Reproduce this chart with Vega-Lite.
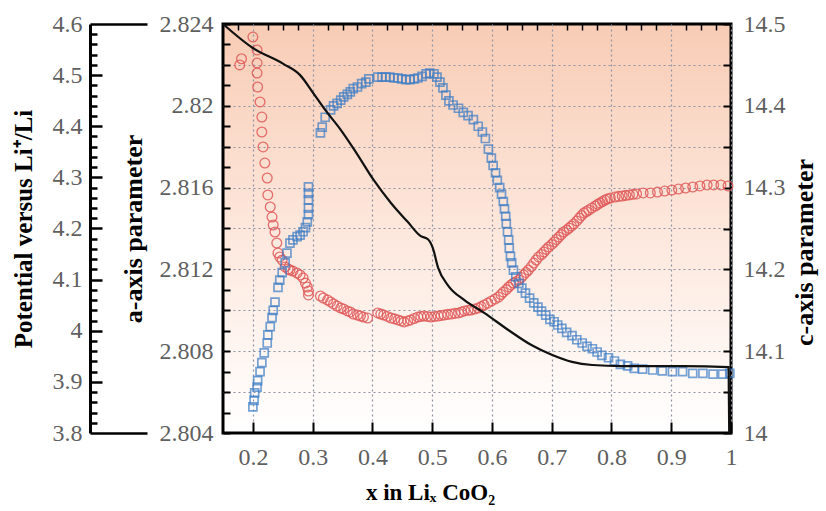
{
  "$schema": "https://vega.github.io/schema/vega-lite/v6.json",
  "width": 508,
  "height": 409,
  "autosize": "none",
  "padding": {"left": 223, "top": 24, "right": 95, "bottom": 78},
  "background": "white",
  "view": {
    "stroke": "black",
    "strokeWidth": 3,
    "fill": {"gradient": "linear", "x1": 0, "y1": 0, "x2": 0, "y2": 1,
      "stops": [{"offset": 0, "color": "#f8ccb5"}, {"offset": 0.5, "color": "#fde7dc"}, {"offset": 1, "color": "#ffffff"}]}
  },
  "config": {
    "font": "Liberation Serif",
    "axis": {
      "labelFont": "Liberation Serif",
      "labelFontSize": 24,
      "labelColor": "#5f5f5f",
      "titleFont": "Liberation Serif",
      "titleFontSize": 26,
      "titleFontWeight": "bold",
      "titleColor": "black",
      "tickColor": "black",
      "tickWidth": 2,
      "gridColor": "#8f93a3",
      "gridDash": [2, 3],
      "gridWidth": 1.2,
      "labelOverlap": false,
      "labelFlush": false
    }
  },
  "datasets": {
    "volt": [
      {"x":0.15,"V":4.6},{"x":0.2,"V":4.553},{"x":0.251,"V":4.522},{"x":0.279,"V":4.5},{"x":0.301,"V":4.465},{"x":0.321,"V":4.432},{"x":0.347,"V":4.393},{"x":0.372,"V":4.35},{"x":0.402,"V":4.295},{"x":0.431,"V":4.25},{"x":0.459,"V":4.213},{"x":0.481,"V":4.185},{"x":0.493,"V":4.179},{"x":0.501,"V":4.162},{"x":0.51,"V":4.123},{"x":0.527,"V":4.088},{"x":0.554,"V":4.06},{"x":0.587,"V":4.035},{"x":0.628,"V":4.001},{"x":0.666,"V":3.972},{"x":0.7,"V":3.953},{"x":0.734,"V":3.939},{"x":0.768,"V":3.933},{"x":0.818,"V":3.931},{"x":0.919,"V":3.931},{"x":0.996,"V":3.929},{"x":0.997,"V":3.8}
    ],
    "apar": [
      {"x":0.178,"a":2.8220},{"x":0.181,"a":2.8223},{"x":0.2,"a":2.82336},{"x":0.207,"a":2.82273},{"x":0.207,"a":2.82209},{"x":0.207,"a":2.8216},{"x":0.208,"a":2.82092},{"x":0.212,"a":2.82019},{"x":0.215,"a":2.81945},{"x":0.215,"a":2.81872},{"x":0.217,"a":2.81799},{"x":0.22,"a":2.8172},{"x":0.224,"a":2.81647},{"x":0.225,"a":2.81564},{"x":0.229,"a":2.81505},{"x":0.232,"a":2.81456},{"x":0.234,"a":2.81417},{"x":0.237,"a":2.81383},{"x":0.24,"a":2.81329},{"x":0.242,"a":2.8128},{"x":0.245,"a":2.81261},{"x":0.249,"a":2.81246},{"x":0.254,"a":2.81212},{"x":0.259,"a":2.81202},{"x":0.262,"a":2.81197},{"x":0.267,"a":2.81192},{"x":0.274,"a":2.81182},{"x":0.279,"a":2.81173},{"x":0.284,"a":2.81158},{"x":0.288,"a":2.81133},{"x":0.291,"a":2.81114},{"x":0.293,"a":2.81094},{"x":0.293,"a":2.81075},
      {"x":0.313,"a":2.8107},{"x":0.318,"a":2.8106},{"x":0.325,"a":2.8105},{"x":0.33,"a":2.81041},{"x":0.335,"a":2.81031},{"x":0.341,"a":2.81021},{"x":0.347,"a":2.81011},{"x":0.352,"a":2.81006},{"x":0.358,"a":2.80997},{"x":0.363,"a":2.80992},{"x":0.368,"a":2.80982},{"x":0.375,"a":2.80977},{"x":0.38,"a":2.80972},{"x":0.385,"a":2.80967},{"x":0.392,"a":2.80962},
      {"x":0.409,"a":2.80987},{"x":0.414,"a":2.80982},{"x":0.419,"a":2.80977},{"x":0.425,"a":2.8097},{"x":0.431,"a":2.80962},{"x":0.437,"a":2.80958},{"x":0.443,"a":2.80953},{"x":0.448,"a":2.80948},{"x":0.453,"a":2.80943},{"x":0.459,"a":2.80948},{"x":0.464,"a":2.80953},{"x":0.47,"a":2.8096},{"x":0.476,"a":2.80967},{"x":0.481,"a":2.8097},{"x":0.486,"a":2.80972},{"x":0.492,"a":2.8097},{"x":0.498,"a":2.80967},{"x":0.504,"a":2.8097},{"x":0.51,"a":2.80972},{"x":0.515,"a":2.80975},{"x":0.52,"a":2.80977},{"x":0.526,"a":2.8098},{"x":0.532,"a":2.80982},{"x":0.538,"a":2.80985},{"x":0.544,"a":2.80987},{"x":0.549,"a":2.80992},{"x":0.554,"a":2.80997},{"x":0.56,"a":2.81},{"x":0.565,"a":2.81001},{"x":0.571,"a":2.81006},{"x":0.577,"a":2.81011},{"x":0.582,"a":2.81018},{"x":0.587,"a":2.81026},{"x":0.593,"a":2.81035},{"x":0.599,"a":2.81045},{"x":0.605,"a":2.81055},{"x":0.611,"a":2.81065},{"x":0.615,"a":2.81077},{"x":0.619,"a":2.81089},{"x":0.624,"a":2.81101},{"x":0.628,"a":2.81114},{"x":0.632,"a":2.81124},{"x":0.636,"a":2.81133},{"x":0.64,"a":2.8114},{"x":0.645,"a":2.81148},{"x":0.649,"a":2.8116},{"x":0.653,"a":2.81173},{"x":0.657,"a":2.81185},{"x":0.661,"a":2.81197},{"x":0.666,"a":2.81214},{"x":0.67,"a":2.81231},{"x":0.674,"a":2.81246},{"x":0.678,"a":2.81261},{"x":0.683,"a":2.81273},{"x":0.687,"a":2.81285},{"x":0.691,"a":2.81298},{"x":0.695,"a":2.8131},{"x":0.7,"a":2.81322},{"x":0.704,"a":2.81334},{"x":0.708,"a":2.81346},{"x":0.712,"a":2.81358},{"x":0.716,"a":2.8137},{"x":0.72,"a":2.81383},{"x":0.725,"a":2.81392},{"x":0.729,"a":2.81402},{"x":0.733,"a":2.81412},{"x":0.737,"a":2.81422},{"x":0.742,"a":2.81437},{"x":0.746,"a":2.81451},{"x":0.75,"a":2.81464},{"x":0.754,"a":2.81476},{"x":0.758,"a":2.81483},{"x":0.762,"a":2.8149},{"x":0.767,"a":2.815},{"x":0.773,"a":2.8151},{"x":0.777,"a":2.81518},{"x":0.781,"a":2.81525},{"x":0.785,"a":2.81532},{"x":0.789,"a":2.81539},{"x":0.793,"a":2.81544},{"x":0.798,"a":2.81549},{"x":0.806,"a":2.81554},{"x":0.812,"a":2.81557},{"x":0.818,"a":2.81559},{"x":0.824,"a":2.81562},{"x":0.83,"a":2.81564},{"x":0.836,"a":2.81567},{"x":0.842,"a":2.81569},{"x":0.853,"a":2.81574},{"x":0.865,"a":2.81574},{"x":0.877,"a":2.81578},{"x":0.889,"a":2.81583},{"x":0.901,"a":2.81588},{"x":0.912,"a":2.81593},{"x":0.924,"a":2.81598},{"x":0.936,"a":2.81603},{"x":0.948,"a":2.81608},{"x":0.96,"a":2.81613},{"x":0.971,"a":2.81613},{"x":0.983,"a":2.81613},{"x":0.995,"a":2.81608}
    ],
    "cpar": [
      {"x":0.2,"c":14.032},{"x":0.202,"c":14.04},{"x":0.203,"c":14.049},{"x":0.207,"c":14.056},{"x":0.208,"c":14.064},{"x":0.212,"c":14.075},{"x":0.215,"c":14.086},{"x":0.219,"c":14.098},{"x":0.224,"c":14.11},{"x":0.225,"c":14.12},{"x":0.229,"c":14.13},{"x":0.232,"c":14.141},{"x":0.234,"c":14.15},{"x":0.237,"c":14.16},{"x":0.242,"c":14.178},{"x":0.245,"c":14.187},{"x":0.249,"c":14.196},{"x":0.254,"c":14.208},{"x":0.257,"c":14.22},{"x":0.262,"c":14.232},{"x":0.267,"c":14.236},{"x":0.274,"c":14.24},{"x":0.279,"c":14.242},{"x":0.284,"c":14.246},{"x":0.288,"c":14.251},{"x":0.291,"c":14.258},{"x":0.293,"c":14.267},{"x":0.293,"c":14.275},{"x":0.293,"c":14.285},{"x":0.293,"c":14.293},{"x":0.293,"c":14.301},
      {"x":0.313,"c":14.367},{"x":0.316,"c":14.374},{"x":0.321,"c":14.386},{"x":0.33,"c":14.395},{"x":0.335,"c":14.4},{"x":0.341,"c":14.403},{"x":0.347,"c":14.407},{"x":0.352,"c":14.411},{"x":0.358,"c":14.414},{"x":0.363,"c":14.417},{"x":0.368,"c":14.421},{"x":0.375,"c":14.423},{"x":0.382,"c":14.427},{"x":0.389,"c":14.429},{"x":0.394,"c":14.433},
      {"x":0.409,"c":14.435},{"x":0.416,"c":14.435},{"x":0.422,"c":14.435},{"x":0.429,"c":14.435},{"x":0.436,"c":14.434},{"x":0.443,"c":14.434},{"x":0.449,"c":14.433},{"x":0.456,"c":14.432},{"x":0.463,"c":14.432},{"x":0.47,"c":14.433},{"x":0.476,"c":14.434},{"x":0.483,"c":14.436},{"x":0.49,"c":14.439},{"x":0.496,"c":14.44},{"x":0.503,"c":14.439},{"x":0.508,"c":14.435},{"x":0.513,"c":14.429},{"x":0.518,"c":14.422},{"x":0.523,"c":14.413},{"x":0.528,"c":14.406},{"x":0.535,"c":14.401},{"x":0.544,"c":14.397},{"x":0.552,"c":14.392},{"x":0.56,"c":14.388},{"x":0.569,"c":14.383},{"x":0.577,"c":14.375},{"x":0.584,"c":14.368},{"x":0.589,"c":14.36},{"x":0.594,"c":14.347},{"x":0.599,"c":14.336},{"x":0.602,"c":14.327},{"x":0.606,"c":14.318},{"x":0.609,"c":14.309},{"x":0.613,"c":14.3},{"x":0.616,"c":14.292},{"x":0.619,"c":14.283},{"x":0.621,"c":14.274},{"x":0.623,"c":14.265},{"x":0.624,"c":14.256},{"x":0.626,"c":14.246},{"x":0.628,"c":14.236},{"x":0.629,"c":14.226},{"x":0.631,"c":14.216},{"x":0.633,"c":14.208},{"x":0.636,"c":14.199},{"x":0.64,"c":14.191},{"x":0.645,"c":14.183},{"x":0.65,"c":14.177},{"x":0.656,"c":14.171},{"x":0.663,"c":14.165},{"x":0.67,"c":14.159},{"x":0.677,"c":14.154},{"x":0.683,"c":14.149},{"x":0.69,"c":14.144},{"x":0.697,"c":14.139},{"x":0.704,"c":14.136},{"x":0.71,"c":14.132},{"x":0.717,"c":14.128},{"x":0.725,"c":14.123},{"x":0.734,"c":14.119},{"x":0.742,"c":14.114},{"x":0.751,"c":14.11},{"x":0.759,"c":14.106},{"x":0.768,"c":14.103},{"x":0.776,"c":14.099},{"x":0.784,"c":14.095},{"x":0.795,"c":14.092},{"x":0.805,"c":14.088},{"x":0.815,"c":14.084},{"x":0.827,"c":14.082},{"x":0.838,"c":14.079},{"x":0.852,"c":14.078},{"x":0.869,"c":14.077},{"x":0.885,"c":14.076},{"x":0.902,"c":14.075},{"x":0.919,"c":14.075},{"x":0.936,"c":14.073},{"x":0.953,"c":14.073},{"x":0.97,"c":14.072},{"x":0.986,"c":14.072},{"x":0.998,"c":14.073}
    ]
  },
  "resolve": {"scale": {"y": "independent"}, "axis": {"y": "independent", "x": "independent"}},
  "layer": [
    {
      "data": {"name": "apar"},
      "mark": {"type": "point", "shape": "circle", "filled": false, "stroke": "#e05a5a", "strokeWidth": 1.3, "size": 95, "opacity": 0.85},
      "encoding": {
        "x": {"field": "x", "type": "quantitative", "scale": {"domain": [0.15, 1], "nice": false, "zero": false},
          "axis": {
            "title": "x in Liₓ CoO₂",
            "titleFontSize": 23,
            "values": [0.2,0.3,0.4,0.5,0.6,0.7,0.8,0.9,1],
            "format": "~g",
            "tickSize": -11,
            "grid": true,
            "domain": false,
            "labelPadding": 23,
            "titleX": 207,
            "titleAlign": "center",
            "titlePadding": 12
          }},
        "y": {"field": "a", "type": "quantitative", "scale": {"domain": [2.804, 2.824], "nice": false, "zero": false},
          "axis": {
            "orient": "left",
            "title": "a-axis parameter",
            "values": [2.804,2.805,2.806,2.807,2.808,2.809,2.81,2.811,2.812,2.813,2.814,2.815,2.816,2.817,2.818,2.819,2.82,2.821,2.822,2.823,2.824],
            "labelExpr": "abs(datum.value*250 - round(datum.value*250)) < 0.01 ? format(datum.value, '.4~r') : ''",
            "tickSize": -7,
            "grid": true,
            "gridOpacity": {"condition": {"test": "abs(datum.value*500 - round(datum.value*500)) < 0.01 && datum.value > 2.8045 && datum.value < 2.8235", "value": 1}, "value": 0},
            "domain": false,
            "labelPadding": 17,
            "titlePadding": 13
          }}
      }
    },
    {
      "data": {"name": "cpar"},
      "mark": {"type": "point", "shape": "square", "filled": false, "stroke": "#3b7cc6", "strokeWidth": 1.7, "size": 64},
      "encoding": {
        "x": {"field": "x", "type": "quantitative", "scale": {"domain": [0.15, 1], "nice": false, "zero": false},
          "axis": {
            "title": null,
            "labels": false,
            "grid": false,
            "domain": false,
            "values": [0.175,0.225,0.25,0.275,0.325,0.35,0.375,0.425,0.45,0.475,0.525,0.55,0.575,0.625,0.65,0.675,0.725,0.75,0.775,0.825,0.85,0.875,0.925,0.95,0.975],
            "tickSize": -6,
            "tickWidth": 1.5
          }},
        "y": {"field": "c", "type": "quantitative", "scale": {"domain": [14, 14.5], "nice": false, "zero": false},
          "axis": {
            "orient": "right",
            "title": "c-axis parameter",
            "values": [14,14.05,14.1,14.15,14.2,14.25,14.3,14.35,14.4,14.45,14.5],
            "labelExpr": "abs(datum.value*10 - round(datum.value*10)) < 0.01 ? format(datum.value, '.3~r') : ''",
            "tickSize": -8,
            "grid": false,
            "domain": false,
            "labelPadding": 20,
            "titleAngle": 270,
            "titleY": 228,
            "titlePadding": 32
          }}
      }
    },
    {
      "data": {"name": "volt"},
      "mark": {"type": "line", "color": "#111111", "strokeWidth": 2.2, "interpolate": "monotone"},
      "encoding": {
        "x": {"field": "x", "type": "quantitative", "scale": {"domain": [0.15, 1], "nice": false, "zero": false}, "axis": null},
        "y": {"field": "V", "type": "quantitative", "scale": {"domain": [3.8, 4.6], "nice": false, "zero": false},
          "axis": {
            "orient": "left",
            "offset": 133,
            "title": "Potential versus Li⁺/Li",
            "titleFontSize": 25,
            "values": [3.8,3.9,4,4.1,4.2,4.3,4.4,4.5,4.6],
            "labelExpr": "format(datum.value, '.2~r')",
            "ticks": false,
            "grid": false,
            "domain": true,
            "domainColor": "black",
            "domainWidth": 3,
            "labelPadding": 8,
            "titlePadding": 16
          }}
      }
    },
    {
      "data": {"name": "volt"},
      "mark": {"type": "line", "opacity": 0},
      "encoding": {
        "x": {"field": "x", "type": "quantitative", "scale": {"domain": [0.15, 1], "nice": false, "zero": false}, "axis": null},
        "y": {"field": "V", "type": "quantitative", "scale": {"domain": [3.8, 4.6], "nice": false, "zero": false},
          "axis": {
            "orient": "left",
            "offset": 133,
            "title": null,
            "labels": false,
            "grid": false,
            "domain": false,
            "values": [3.8,3.82,3.84,3.86,3.88,3.9,3.92,3.94,3.96,3.98,4,4.02,4.04,4.06,4.08,4.1,4.12,4.14,4.16,4.18,4.2,4.22,4.24,4.26,4.28,4.3,4.32,4.34,4.36,4.38,4.4,4.42,4.44,4.46,4.48,4.5,4.52,4.54,4.56,4.58,4.6],
            "tickWidth": 2.5,
            "tickSize": {"condition": [
              {"test": "datum.value < 3.801 || datum.value > 4.599", "value": -57},
              {"test": "abs(datum.value*10 - round(datum.value*10)) < 0.01", "value": -12}
            ], "value": -7}
          }}
      }
    }
  ]
}
